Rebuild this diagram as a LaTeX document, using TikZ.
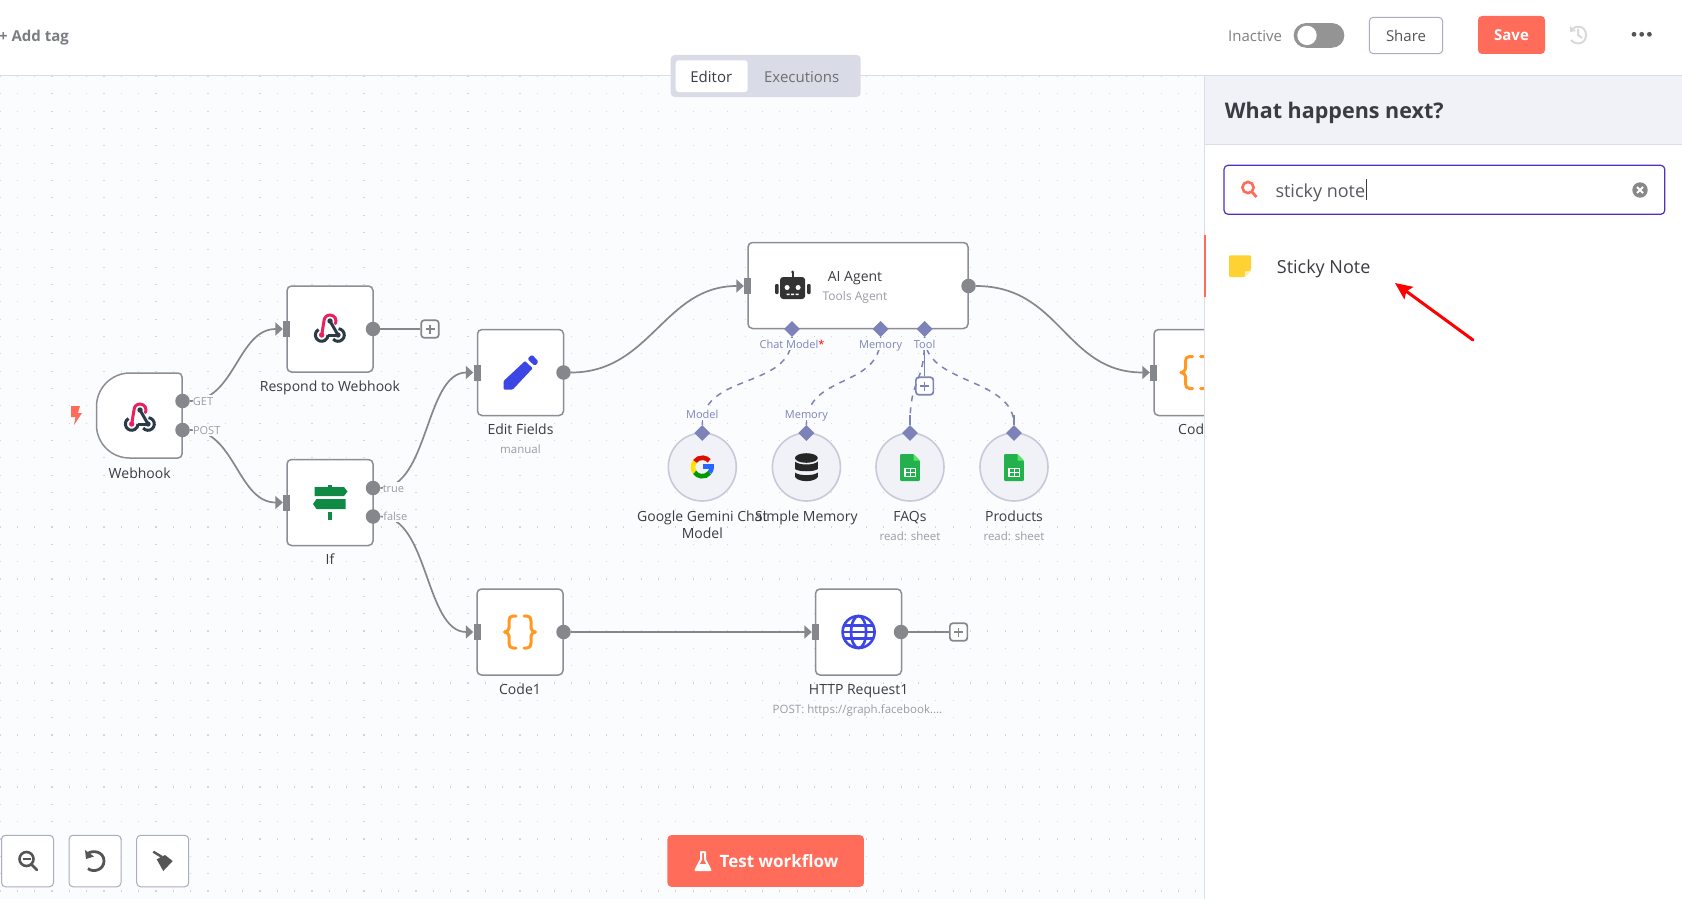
\documentclass[tikz,border=0pt]{standalone}
\usepackage{fontspec}
\setmainfont{Open Sans}
\usetikzlibrary{shapes.geometric,arrows.meta}
\definecolor{canvas}{HTML}{FBFCFE}
\definecolor{griddot}{HTML}{D2D5DD}
\definecolor{nodeline}{HTML}{8C8E95}
\definecolor{wire}{HTML}{85878D}
\definecolor{lilac}{HTML}{7D83B8}
\definecolor{coral}{HTML}{FF6D5A}
\definecolor{ink}{HTML}{3A3C44}
\definecolor{subtext}{HTML}{9A9CA5}
\definecolor{uiline}{HTML}{DBDEE8}
\definecolor{panelhead}{HTML}{F0F2F8}
\definecolor{tabbg}{HTML}{D9DCE7}
\definecolor{btnline}{HTML}{A9ADBD}
\definecolor{iconink}{HTML}{555555}
\definecolor{hookdark}{HTML}{2C3A48}
\definecolor{hookpink}{HTML}{E9215F}
\definecolor{signgreen}{HTML}{0F8A45}
\definecolor{penblue}{HTML}{3B46E5}
\definecolor{curly}{HTML}{FF9922}
\definecolor{sheetgreen}{HTML}{23B14D}
\definecolor{sticky}{HTML}{FFD233}
\definecolor{subring}{HTML}{C6CAD9}
\newcommand{\fsize}[1]{\fontsize{#1}{24}\selectfont}
\newcommand{\arcdraw}[6]{\draw[#1] ([shift={(#4:#6)}]#2,#3) arc[start angle=#4,end angle=#5,radius=#6];}
\newcommand{\hookicon}[2]{\begin{scope}[shift={(#1,#2)},line width=3pt]
 \draw[hookdark] (0,-8) -- (8,6);
 \fill[hookdark] (0,-8) circle (2.7);
 \arcdraw{hookdark}{-8.3}{6}{240}{0}{6.3}
 \draw[hookdark] (-2,6) -- (8,6);
 \fill[hookdark] (8,6) circle (2.7);
 \arcdraw{hookdark}{8}{6}{275}{500}{6.3}
 \draw[hookpink,line cap=round] (-8.3,6) -- (-6,-8) arc[start angle=180,end angle=385,radius=6];
 \fill[hookpink] (-8.3,6) circle (2.7);
\end{scope}}
\newcommand{\curlyicon}[2]{\begin{scope}[shift={(#1,#2)},curly,line width=3pt,line cap=round,line join=round]
 \draw (-4,-16) -- (-7,-16) .. controls (-10,-16) and (-11,-14) .. (-11,-11) -- (-11,-4) .. controls (-11,-2) and (-13,0) .. (-15.5,0) .. controls (-13,0) and (-11,2) .. (-11,4) -- (-11,11) .. controls (-11,14) and (-10,16) .. (-7,16) -- (-4,16);
 \draw (4,-16) -- (7,-16) .. controls (10,-16) and (11,-14) .. (11,-11) -- (11,-4) .. controls (11,-2) and (13,0) .. (15.5,0) .. controls (13,0) and (11,2) .. (11,4) -- (11,11) .. controls (11,14) and (10,16) .. (7,16) -- (4,16);
\end{scope}}
\newcommand{\sheeticon}[2]{\begin{scope}[shift={(#1,#2)}]
 \fill[sheetgreen,rounded corners=1pt] (-9.8,-13.5) -- (3.5,-13.5) -- (9.8,-7) -- (9.8,13.5) -- (-9.8,13.5) -- cycle;
 \fill[green!55!sheetgreen!70!white] (3.5,-13.5) -- (9.8,-7) -- (3.5,-7) -- cycle;
 \draw[white,line width=1.2pt] (-5,0.7) rectangle (5.5,8.7) (-5,4.7) -- (5.5,4.7) (0.2,0.7) -- (0.2,8.7);
\end{scope}}
\newcommand{\plusmark}[3]{\draw[#1,line width=1.6pt] (#2-4.5,#3) -- (#2+4.5,#3) (#2,#3-4.5) -- (#2,#3+4.5);}
\tikzset{
 x=1pt,y=-1pt,
 txt/.style={text height=0.92*#1*1pt,text depth=0.12*#1*1pt,font=\fsize{#1},inner sep=0pt},
 workbox/.style={draw=nodeline,line width=1.5pt,fill=white,rounded corners=4.5pt,minimum width=#1,minimum height=86pt,inner sep=0pt},
 subnode/.style={circle,draw=subring,line width=1.6pt,fill=panelhead,minimum size=68pt,inner sep=0pt},
 outport/.style={circle,fill=wire,minimum size=14.5pt,inner sep=0pt},
 inport/.style={rectangle,fill=wire,minimum width=7pt,minimum height=16pt,inner sep=0pt},
 lilacport/.style={diamond,fill=lilac,minimum width=16pt,minimum height=16pt,inner sep=0pt},
 addbox/.style={rectangle,rounded corners=3pt,fill=white,line width=1.7pt,minimum size=17.5pt,inner sep=0pt},
 wirestyle/.style={draw=wire,line width=1.7pt},
 arrowwire/.style={wirestyle,-{Triangle[length=7.5pt,width=13pt]}},
 dashwire/.style={draw=lilac,line width=1.5pt,dash pattern=on 6pt off 6pt},
 solidwire/.style={draw=lilac,line width=1.6pt},
 nodename/.style={txt=14,text=ink},
 nodesub/.style={txt=11.5,text=subtext},
 portlabel/.style={txt=11,text=subtext,fill=canvas},
 lilaclabel/.style={txt=11,text=lilac,fill=canvas},
 toolbtn/.style={draw=btnline,line width=1pt,fill=white,rounded corners=4pt,minimum width=52pt,minimum height=51.5pt,inner sep=0pt},
}
\begin{document}
\begin{tikzpicture}
\useasboundingbox (0,0) rectangle (1682,899);
\fill[white] (0,0) rectangle (1682,899);
\fill[canvas] (0,75) rectangle (1204,899);
\foreach \i in {0,...,70}{\foreach \j in {0,...,47}{\fill[griddot] ({17.33*\i-0.6},{821.7-17.33*(\j-4)-0.6}) rectangle +(1.2,1.2);}}
\fill[white] (0,0) rectangle (1682,75);
\draw[uiline,line width=1pt] (0,75.5) -- (1204,75.5);

% boxes
\draw[nodeline,line width=1.5pt,fill=white] (178,373) -- (130,373) arc[start angle=270,end angle=180,radius=33.5] -- (96.5,425) arc[start angle=180,end angle=90,radius=33] -- (178,458) arc[start angle=90,end angle=0,radius=4] -- (182,377) arc[start angle=360,end angle=270,radius=4] -- cycle;
\node[workbox=86pt] (respond) at (330,329) {};
\node[workbox=86pt] (ifnode) at (330,502.5) {};
\node[workbox=86pt] (edit) at (520.5,372.5) {};
\node[workbox=220pt] (agent) at (858,285.5) {};
\node[workbox=86pt] (rcode) at (1197,372.5) {};
\node[workbox=86pt] (codeone) at (520,632) {};
\node[workbox=86pt] (http) at (858.5,632) {};
\node[subnode] (gemini) at (702.3,467) {};
\node[subnode] (memory) at (806.4,467) {};
\node[subnode] (faqs) at (910,467) {};
\node[subnode] (products) at (1014,467) {};

% ports
\node[outport] (wGet) at (182.5,401) {};
\node[outport] (wPost) at (182.5,430) {};
\node[inport] (rIn) at (286.5,329) {};
\node[outport] (rOut) at (373,329) {};
\node[addbox,draw=wire] (rAdd) at (430,329) {};
\node[inport] (iIn) at (286.5,502.5) {};
\node[outport] (iTrue) at (373,488) {};
\node[outport] (iFalse) at (373,516.5) {};
\node[inport] (eIn) at (477,372.5) {};
\node[outport] (eOut) at (563.5,372.5) {};
\node[inport] (aIn) at (747.5,286) {};
\node[outport] (aOut) at (968.5,286) {};
\node[inport] (cIn) at (1153.5,372.5) {};
\node[inport] (oIn) at (477,632) {};
\node[outport] (oOut) at (563.5,632) {};
\node[inport] (hIn) at (815.5,632) {};
\node[outport] (hOut) at (901,632) {};
\node[addbox,draw=wire] (hAdd) at (958.6,632) {};
\node[addbox,draw=lilac] (tAdd) at (924.6,386) {};

% connectors
\draw[arrowwire] (wGet.east) .. controls +(45,0) and +(-45,0) .. (rIn.west);
\draw[arrowwire] (wPost.east) .. controls +(45,0) and +(-45,0) .. (iIn.west);
\draw[arrowwire] (iTrue.east) .. controls +(48,0) and +(-48,0) .. (eIn.west);
\draw[arrowwire] (iFalse.east) .. controls +(48,0) and +(-48,0) .. (oIn.west);
\draw[arrowwire] (eOut.east) .. controls +(80,0) and +(-80,0) .. (aIn.west);
\draw[arrowwire] (aOut.east) .. controls +(85,0) and +(-85,0) .. (cIn.west);
\draw[arrowwire] (oOut.east) -- (hIn.west);
\draw[wirestyle] (rOut.east) -- (rAdd.west);
\draw[wirestyle] (hOut.east) -- (hAdd.west);

\node[lilacport] (aModel) at (792,329) {};
\node[lilacport] (aMem) at (880.6,329) {};
\node[lilacport] (aTool) at (924.6,329) {};
\node[lilacport] (gTop) at (702.3,433) {};
\node[lilacport] (mTop) at (806.4,433) {};
\node[lilacport] (fTop) at (910,433) {};
\node[lilacport] (pTop) at (1014,433) {};
\draw[dashwire] (aModel.south) .. controls +(0,52) and +(0,-52) .. (gTop.north);
\draw[dashwire] (aMem.south) .. controls +(0,52) and +(0,-52) .. (mTop.north);
\draw[dashwire] (aTool.south) .. controls +(0,50) and +(0,-50) .. (fTop.north);
\draw[dashwire] (aTool.south) .. controls +(0,48) and +(0,-48) .. (pTop.north);
\draw[solidwire] (aTool.south) -- (tAdd.north);
\draw[solidwire] (aModel.south) -- +(0,10);
\draw[solidwire] (aMem.south) -- +(0,10);
\draw[solidwire] (gTop.north) -- +(0,-10);
\draw[solidwire] (mTop.north) -- +(0,-10);
\draw[solidwire] (fTop.north) -- +(0,-10);
\draw[solidwire] (pTop.north) -- +(0,-10);
\plusmark{lilac}{924.6}{386}
\plusmark{wire}{430}{329}
\plusmark{wire}{958.6}{632}

% port labels
\node[portlabel] (lGet) at (203,401) {GET};
\node[portlabel] (lPost) at (206.7,430) {POST};
\node[portlabel] (lTrue) at (393.4,488) {true};
\node[portlabel] (lFalse) at (395.3,516) {false};
\node[lilaclabel] (lChat) at (792,344) {Chat Model{\color{red}*}};
\node[lilaclabel] (lMem) at (880.6,344) {Memory};
\node[lilaclabel] (lTool) at (924.6,344) {Tool};
\node[lilaclabel] (lModel) at (702.3,414) {Model};
\node[lilaclabel] (lMem2) at (806.4,414) {Memory};

% node names
\node[nodename] (tWeb) at (139.7,473) {Webhook};
\node[nodename] (tResp) at (330,386) {Respond to Webhook};
\node[nodename] (tIf) at (330,559) {If};
\node[nodename] (tEdit) at (520.5,429) {Edit Fields};
\node[nodesub] (tManual) at (520.5,449) {manual};
\node[nodename] (tAgent) at (855,276) {AI Agent};
\node[nodesub,txt=12] (tTools) at (855,296) {Tools Agent};
\node[text=ink,inner sep=0pt,align=center,font=\fontsize{14}{17}\selectfont] (tGem) at (702.3,524.5) {Google Gemini Chat\\Model};
\node[nodename] (tMem) at (806.4,516) {Simple Memory};
\node[nodename] (tFaq) at (910,516) {FAQs};
\node[nodesub] (tFaqS) at (910,536) {read: sheet};
\node[nodename] (tProd) at (1014,516) {Products};
\node[nodesub] (tProdS) at (1014,536) {read: sheet};
\node[nodename,anchor=west] (tCod) at (1178,429) {Code};
\node[nodename] (tCode1) at (520,689) {Code1};
\node[nodename] (tHttp) at (858.6,689) {HTTP Request1};
\node[nodesub] (tPost) at (857.5,709) {POST: https://graph.facebook....};

% icons
\fill[coral] (71,406) -- (80,406) -- (78,413) -- (82,413) -- (74,425) -- (75.5,417) -- (71,417) -- cycle;
\hookicon{140}{418}
\hookicon{330}{329}
\begin{scope}[signgreen]
 \fill (328.4,485) rectangle (332,488);
 \fill (314.6,487) -- (344,487) -- (347.5,491.5) -- (344,496) -- (314.6,496) -- cycle;
 \fill (316.5,499) -- (345.6,499) -- (345.6,509) -- (316.5,509) -- (313,504) -- cycle;
 \fill (328.4,511.5) rectangle (332,520);
\end{scope}
\begin{scope}[penblue]
 \fill[rounded corners=1pt] (503.6,389.5) -- (503.6,381) -- (525,361) -- (532.7,368.3) -- (512.8,389.5) -- cycle;
 \fill[rounded corners=1.5pt] (527.4,359) -- (532,354.5) -- (538.5,361.7) -- (535,366) -- cycle;
\end{scope}
\begin{scope}[shift={(792.6,286)},black!80]
 \fill[rounded corners=3pt] (-12.5,-9) rectangle (12.5,13);
 \fill[rounded corners=1pt] (-17.5,-2) rectangle (-14,8);
 \fill[rounded corners=1pt] (14.5,-2) rectangle (18,8);
 \fill (-1,-14) rectangle (1,-9);
 \fill (0,-14) circle (1.6);
 \fill[white] (-5.5,1.5) circle (2.5) (5.5,1.5) circle (2.5);
 \fill[white] (-6,7.5) rectangle (-3,9) (-1.5,7.5) rectangle (1.5,9) (3,7.5) rectangle (6,9);
\end{scope}
\begin{scope}[line width=4.6pt]
 \arcdraw{red!85!black!90!orange}{702.3}{467}{215}{318}{9.3}
 \arcdraw{yellow!85!orange}{702.3}{467}{145}{215}{9.3}
 \arcdraw{green!60!black}{702.3}{467}{38}{145}{9.3}
 \arcdraw{blue!70!cyan!85!white}{702.3}{467}{0}{38}{9.3}
 \draw[blue!70!cyan!85!white,line width=4.4pt] (703,466.5) -- (714,466.5);
\end{scope}
\begin{scope}[shift={(806.4,467)},black!85]
 \fill (0,-9) ellipse (11.4 and 4.8);
 \fill (-11.4,-5.5) .. controls (-8,-1.5) and (8,-1.5) .. (11.4,-5.5) -- (11.4,2) .. controls (8,5) and (-8,5) .. (-11.4,2) -- cycle;
 \fill (-11.4,5.5) .. controls (-8,9) and (8,9) .. (11.4,5.5) -- (11.4,10) .. controls (8,15.5) and (-8,15.5) .. (-11.4,10) -- cycle;
\end{scope}
\sheeticon{910}{467.5}
\sheeticon{1014}{467.5}
\curlyicon{520}{632}
\curlyicon{1196.5}{372.5}
\begin{scope}[penblue,line width=2.6pt]
 \draw (858.6,632) circle (16);
 \draw (858.6,632) ellipse (7.5 and 16);
 \draw (844,625.5) -- (873.2,625.5) (844,638.5) -- (873.2,638.5);
 \draw (842.6,632) -- (874.6,632);
\end{scope}

% bottom buttons
\node[toolbtn] (bZoom) at (27.5,861) {};
\node[toolbtn] (bReset) at (95,861) {};
\node[toolbtn] (bBroom) at (162.7,861) {};
\begin{scope}[iconink]
 \draw[line width=2.6pt] (26.5,859) circle (7);
 \draw[line width=2pt] (22.5,859) -- (30.5,859);
 \draw[line width=2.8pt,line cap=round] (31.5,864.5) -- (37,870);
 \draw[line width=2.8pt] (88,853.5) .. controls (92,850) and (104,851) .. (104,861) .. controls (104,870) and (93,873) .. (88,868.5);
 \fill (85,850) -- (86,859) -- (94,856.5) -- cycle;
 \draw[line width=2.4pt] (153.3,851.7) -- (162,857);
 \fill (156.7,859.3) -- (165,855) -- (172.7,861) -- (163.3,871) -- cycle;
\end{scope}
\node[rectangle,rounded corners=4pt,fill=coral,minimum width=196.5pt,minimum height=51.7pt,inner sep=0pt] (testbtn) at (765.7,861) {};
\node[txt=17,text=white,font=\bfseries\fsize{17}] (testtxt) at (779,860.5) {Test workflow};
% flask: outlined vessel with a filled bottom
\draw[white,line width=2pt,line join=round] (700.3,852) -- (705.7,852) (701,852) -- (701,859.5) -- (695.5,870) -- (710.5,870) -- (705,859.5) -- (705,852);
\fill[white] (699.5,864) -- (706.5,864) -- (710.5,870) -- (695.5,870) -- cycle;

% right panel
\fill[white] (1204,75) rectangle (1682,899);
\fill[panelhead] (1204,75) rectangle (1682,144.5);
\draw[uiline,line width=1pt] (1204,75.5) -- (1682,75.5) (1204,144.5) -- (1682,144.5) (1204,75) -- (1204,899);
\node[anchor=west,txt=21.5,text=ink,font=\bfseries\fsize{21.5}] (title) at (1224.7,110) {What happens next?};
\node[rectangle,rounded corners=4pt,draw=penblue!65!violet,line width=1.2pt,fill=white,minimum width=440.7pt,minimum height=49pt,inner sep=0pt] (searchbox) at (1444.4,189.8) {};
\draw[coral,line width=2.6pt] (1248,187.5) circle (5.6);
\draw[coral,line width=2.8pt] (1252,192) -- (1256.5,197);
\node[anchor=west,txt=18,text=ink!85] (searchtxt) at (1275.3,190) {sticky note};
\draw[ink,line width=1pt] (1366,179) -- (1366,200);
\fill[iconink!70] (1640,190) circle (7.7);
\draw[white,line width=2pt] (1637,187) -- (1643,193) (1637,193) -- (1643,187);
\fill[coral] (1204,235) rectangle (1206,296.7);
\fill[sticky,rounded corners=1pt] (1229,255.3) -- (1251,255.3) -- (1251,270) -- (1244,277) -- (1229,277) -- cycle;
\fill[sticky!40!white] (1245,271) -- (1251,271) -- (1245,277) -- cycle;
\node[anchor=west,txt=18,text=ink] (stickytxt) at (1276.7,266) {Sticky Note};
\coordinate (arrowTail) at (1473,340);
\coordinate (arrowTip) at (1395,283);
\draw[red,line width=3pt,line cap=round,-{Stealth[length=17pt,width=15pt,inset=3pt]}] (arrowTail) -- (arrowTip);

% header
\node[anchor=east,txt=15,text=subtext!80!black,font=\bfseries\fsize{15}] (addtag) at (69,35.5) {+ Add tag};
\node[rectangle,rounded corners=4pt,fill=tabbg,minimum width=190pt,minimum height=42pt,inner sep=0pt] (tabs) at (765.7,76) {};
\node[rectangle,rounded corners=3pt,fill=white,minimum width=72pt,minimum height=31.7pt,inner sep=0pt] (tabeditor) at (711.7,76.2) {};
\node[txt=15,text=ink] (tabtxt) at (711.3,76) {Editor};
\node[txt=15,text=iconink!85!white] (tabexec) at (801.7,76) {Executions};
\node[anchor=west,txt=15,text=iconink!75!white] (inact) at (1228,35.7) {Inactive};
\fill[black!42] (1306,23) rectangle (1332,47.7);
\fill[black!42] (1306,35.4) circle (12.35) (1332,35.4) circle (12.35);
\fill[white] (1307,35.4) circle (9.7);
\node[rectangle,rounded corners=4pt,draw=btnline,line width=1pt,fill=white,minimum width=73.4pt,minimum height=36.4pt,inner sep=0pt,text=iconink,font=\fsize{15}] (share) at (1406,35.5) {Share};
\node[rectangle,rounded corners=4pt,fill=coral,minimum width=67pt,minimum height=38pt,inner sep=0pt,text=white,font=\bfseries\fsize{15}] (save) at (1511.5,35) {Save};
\begin{scope}[black!15,line width=2pt]
 \draw (1572,30) .. controls (1576,24) and (1586,26) .. (1586,35) .. controls (1586,44) and (1576,46) .. (1571,40);
 \fill (1570,26) -- (1570,32) -- (1576,31) -- cycle;
 \draw (1578,29) -- (1578,35) -- (1582,38);
\end{scope}
\fill[iconink] (1634,34.3) circle (2.4) (1641.7,34.3) circle (2.4) (1649.4,34.3) circle (2.4);
\end{tikzpicture}
\end{document}
